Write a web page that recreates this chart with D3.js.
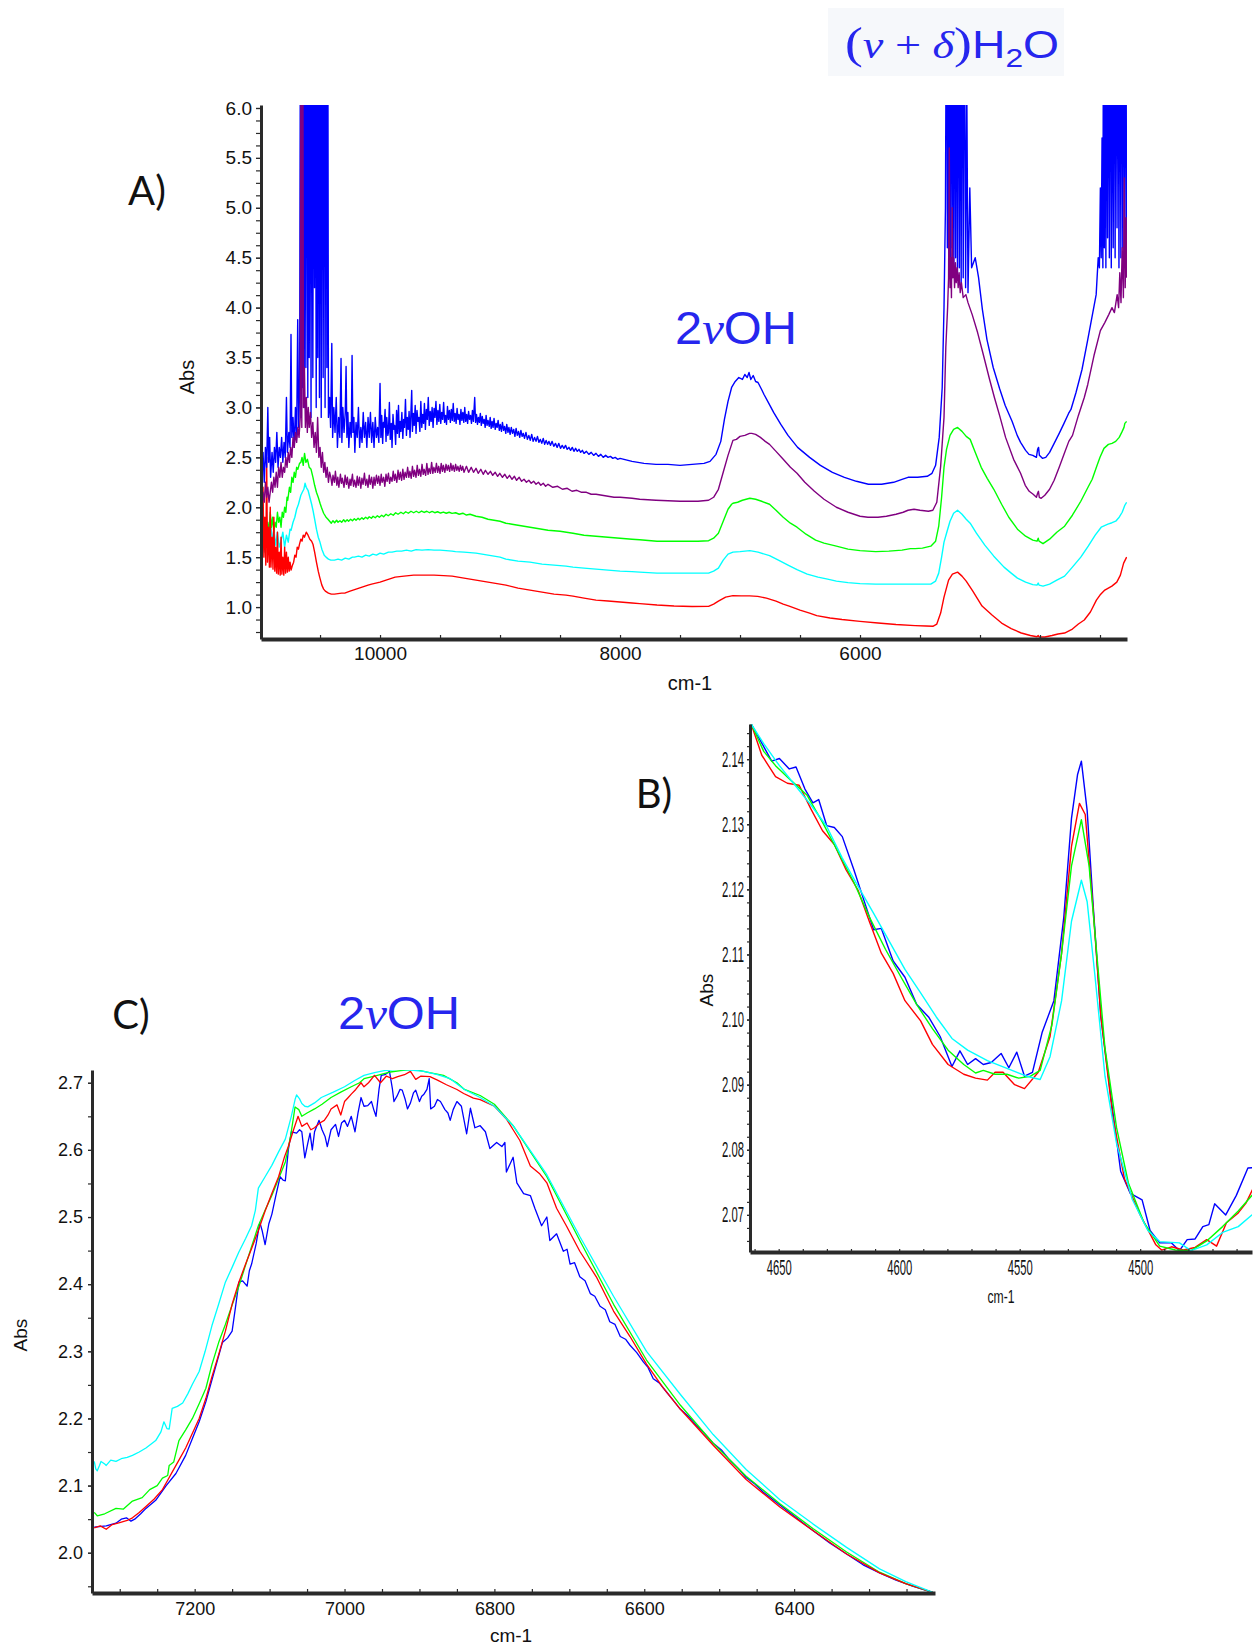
<!DOCTYPE html>
<html>
<head>
<meta charset="utf-8">
<script src="https://cdn.jsdelivr.net/npm/d3@7"></script>
<style>
  body { margin: 0; background: #fff; }
  svg { display: block; }
</style>
</head>
<body>
<div id="chart"></div>
<script>
// ---------- Panel A: full NIR spectra, [wavenumber, Abs] ----------
const aBlue = [
  [10995,2.7],[10985,2.35],[10975,2.55],[10965,2.25],[10955,2.6],[10945,2.4],[10935,3.0],[10928,2.45],[10920,2.7],[10912,2.3],
  [10900,2.55],[10890,2.35],[10880,2.6],[10870,2.45],[10860,2.75],[10850,2.4],[10840,2.6],[10830,2.5],[10820,2.7],[10810,2.45],
  [10800,2.65],[10790,2.5],[10780,3.1],[10772,2.55],[10760,2.75],[10750,2.6],[10742,3.73],[10735,2.7],[10725,2.9],[10715,2.6],
  [10705,3.0],[10695,2.7],[10686,3.88],[10678,2.8],[10670,3.2],
  [10662,8],[10656,2.9],[10650,8],[10644,3.2],[10638,8],[10632,3.0],[10626,8],[10618,3.4],[10610,8],[10602,3.1],[10596,8],
  [10590,3.5],[10582,8],[10575,2.9],[10568,8],[10560,3.3],[10552,8],[10546,4.2],[10540,8],[10532,3.0],[10524,8],[10519,3.5],
  [10512,8],[10505,3.1],[10498,8],[10490,2.9],[10482,8],[10474,3.3],[10466,8],[10458,3.0],[10450,8],[10443,3.4],[10436,8],[10430,2.9],
  [10420,3.1],[10412,2.8],[10402,3.64],[10395,2.7],[10385,3.0],[10375,2.75],[10365,3.1],[10355,2.6],[10345,2.9],[10335,2.7],
  [10325,3.49],[10318,2.65],[10310,3.0],[10300,2.75],[10290,2.95],[10283,3.41],[10276,2.7],[10268,2.95],[10260,2.6],[10250,2.85],
  [10240,2.7],[10233,3.52],[10226,2.75],[10218,2.9],[10210,2.55],[10200,2.85],[10190,2.7],[10180,3.0],[10170,2.6],[10160,2.8],
  [10150,2.65],[10140,2.95],[10130,2.7],[10120,2.85],[10110,2.6],[10100,2.9],[10090,2.7],[10080,2.95],[10070,2.65],[10060,2.85],
  [10050,2.6],[10040,2.9],[10030,2.7],[10020,2.8],[10010,2.65],
  [10000,3.24],[9993,2.7],[9986,2.92],[9978,2.64],[9972,2.85],[9966,2.8],[9958,2.98],[9950,2.66],[9944,2.9],[9935,2.72],
  [9930,2.75],[9922,3.05],[9915,2.68],[9906,2.84],[9900,2.6],[9892,2.93],[9884,2.78],[9878,2.82],[9870,2.63],[9862,2.97],
  [9855,2.74],[9846,3.02],[9840,2.7],[9833,2.86],[9826,2.76],[9818,2.95],[9810,2.69],[9803,2.88],[9796,2.8],[9788,3.08],
  [9780,2.72],[9773,2.9],[9765,2.78],[9758,2.96],[9750,2.7],[9736,3.17],[9730,2.76],[9722,2.94],[9715,2.82],[9707,3.02],
  [9700,2.74],[9692,2.97],[9684,2.86],[9676,2.9],[9668,2.76],[9660,3.06],[9652,2.8],[9645,2.93],[9637,2.84],[9630,3.04],
  [9622,2.78],[9614,2.98],[9606,2.88],[9598,3.1],[9590,2.82],[9582,2.96],[9574,2.86],[9566,3.0],[9558,2.8],[9550,2.99],
  [9542,2.9],[9534,3.06],[9526,2.83],[9518,2.97],[9510,2.86],[9502,3.03],[9494,2.84],[9486,2.95],[9478,2.88],[9470,3.05],
  [9462,2.85],[9454,2.92],[9446,2.83],[9438,3.01],[9430,2.88],[9422,2.97],[9414,2.85],[9406,2.98],[9398,2.87],[9390,3.04],
  [9382,2.86],[9374,2.94],[9366,2.84],[9358,2.99],[9350,2.88],[9342,2.93],[9334,2.83],[9326,2.98],[9318,2.87],[9310,2.95],
  [9302,2.85],[9294,3.0],[9286,2.86],[9278,2.93],[9270,2.84],[9262,2.96],[9254,2.88],[9246,2.92],[9238,2.84],[9230,2.97],
  [9222,2.86],[9211,3.1],[9204,2.85],[9196,2.93],[9188,2.83],[9180,2.9],[9172,2.85],[9164,2.94],[9156,2.82],[9148,2.91],
  [9140,2.84],[9132,2.88],[9124,2.8],[9116,2.92],[9108,2.82],[9100,2.87],[9090,2.81],[9082,2.9],[9074,2.79],[9066,2.86],
  [9058,2.8],[9050,2.89],[9040,2.78],[9032,2.84],[9024,2.8],[9016,2.87],[9006,2.77],[8998,2.83],[8988,2.76],[8980,2.85],
  [8970,2.77],[8962,2.81],[8952,2.74],[8944,2.83],[8934,2.75],[8926,2.8],[8916,2.73],[8906,2.8],[8896,2.74],[8886,2.78],
  [8876,2.71],[8866,2.79],[8856,2.72],[8846,2.76],[8836,2.7],[8826,2.77],[8816,2.71],[8806,2.74],[8796,2.69],[8784,2.75],
  [8772,2.68],[8760,2.72],[8748,2.67],[8736,2.73],[8724,2.66],[8712,2.7],[8700,2.66],[8688,2.71],[8676,2.65],[8664,2.68],
  [8652,2.64],[8640,2.69],[8628,2.63],[8616,2.67],[8604,2.63],[8592,2.66],[8580,2.62],[8566,2.66],[8552,2.61],[8538,2.64],
  [8524,2.6],[8510,2.64],[8496,2.59],[8482,2.62],[8468,2.59],[8454,2.62],[8440,2.58],[8426,2.6],[8412,2.57],[8398,2.6],
  [8384,2.56],[8370,2.59],[8356,2.56],[8342,2.58],[8328,2.55],[8314,2.57],[8300,2.54],[8280,2.56],[8260,2.53],[8240,2.55],
  [8220,2.52],[8200,2.54],[8180,2.51],[8160,2.53],[8140,2.5],[8120,2.52],[8100,2.5],[8080,2.51],[8060,2.49],[8040,2.5],
  [8020,2.48],[8000,2.49],
  [7900,2.46],[7800,2.44],[7700,2.43],[7600,2.43],[7500,2.42],[7400,2.43],[7300,2.44],[7250,2.46],[7200,2.53],[7160,2.66],
  [7130,2.88],[7100,3.06],[7070,3.2],[7040,3.26],[7010,3.3],[6980,3.28],[6960,3.33],[6940,3.3],[6925,3.35],[6910,3.28],
  [6890,3.32],[6870,3.26],[6850,3.25],[6820,3.18],[6800,3.13],[6760,3.04],[6720,2.95],[6660,2.83],[6600,2.72],[6520,2.6],
  [6420,2.5],[6330,2.42],[6230,2.35],[6130,2.3],[6030,2.26],[5930,2.23],[5820,2.23],[5720,2.25],[5650,2.28],[5600,2.3],
  [5520,2.3],[5440,2.31],[5400,2.34],[5370,2.42],[5340,2.7],[5315,3.2],[5300,4.0],[5288,5.0],[5278,8],[5272,4.6],[5266,8],
  [5260,4.5],[5254,8],[5247,4.4],[5240,8],[5232,4.6],[5226,8],[5218,4.4],[5210,8],[5203,4.5],[5196,8],[5188,4.3],[5180,8],
  [5172,4.4],[5165,8],[5157,4.2],[5150,8],[5140,4.3],[5130,7.5],[5120,4.2],[5110,6.2],[5100,4.15],[5085,5.2],[5070,4.4],
  [5040,4.5],[5012,4.3],[4980,3.98],[4942,3.68],[4890,3.4],[4837,3.19],[4790,3.02],[4732,2.86],[4690,2.72],[4662,2.65],
  [4620,2.57],[4592,2.53],[4560,2.52],[4530,2.5],[4520,2.58],[4512,2.6],[4505,2.52],[4480,2.49],[4452,2.5],[4420,2.55],
  [4382,2.64],[4340,2.74],[4300,2.84],[4262,2.94],[4242,2.98],[4200,3.15],[4150,3.38],[4102,3.68],[4060,3.95],[4032,4.13],
  [4015,4.5],[4005,4.4],[3997,5.2],[3990,4.5],[3983,5.7],[3976,4.4],[3970,8],[3964,4.6],[3958,8],[3951,4.4],[3944,8],
  [3937,4.7],[3930,8],[3922,4.5],[3914,8],[3906,4.4],[3898,7],[3890,4.6],[3882,8],[3874,4.5],[3866,8],[3858,4.8],[3850,8],
  [3842,4.4],[3834,8],[3826,4.5],[3818,8],[3810,4.6],[3802,8],[3794,4.4],[3786,8],[3778,4.6]
]

const aPurple = [
  [10995,2.2],[10985,2.0],[10975,2.15],[10965,2.05],[10955,2.25],[10945,2.1],[10935,2.2],[10925,2.05],[10915,2.15],[10905,2.25],
  [10895,2.15],[10885,2.3],[10875,2.2],[10865,2.35],[10855,2.2],[10845,2.4],[10835,2.3],[10825,2.45],[10815,2.3],[10805,2.4],
  [10795,2.35],[10785,2.5],[10775,2.4],[10765,2.55],[10755,2.45],[10745,2.6],[10735,2.5],[10725,2.7],[10715,2.6],[10705,2.75],
  [10695,2.65],[10685,2.8],[10675,2.7],[10665,2.9],[10658,8],[10652,2.8],[10645,8],[10638,3.0],[10630,3.4],[10622,2.8],
  [10614,3.1],[10606,2.75],[10598,3.0],[10590,2.8],[10580,2.95],[10570,2.7],[10560,2.85],[10550,2.6],[10540,2.75],[10530,2.55],
  [10520,2.9],[10510,2.5],[10500,2.6],[10490,2.4],[10480,2.55],[10470,2.35],[10460,2.45],[10450,2.3],[10440,2.4],[10430,2.25],
  [10420,2.35],[10410,2.3],[10400,2.22],[10392,2.32],[10380,2.25],[10372,2.36],[10360,2.22],[10352,2.3],[10343,2.2],[10330,2.33],
  [10322,2.24],[10314,2.29],[10300,2.2],[10291,2.32],[10280,2.23],[10272,2.3],[10260,2.19],[10250,2.28],[10243,2.22],[10230,2.33],
  [10221,2.21],[10212,2.27],[10200,2.2],[10190,2.31],[10182,2.22],[10171,2.3],[10160,2.19],[10151,2.29],[10141,2.23],[10130,2.34],
  [10120,2.22],[10110,2.28],[10100,2.2],[10090,2.32],[10082,2.23],[10070,2.3],[10060,2.19],[10050,2.3],[10042,2.22],[10030,2.32],
  [10020,2.24],[10011,2.31],[10000,2.22],[9990,2.33],[9982,2.25],[9970,2.3],[9960,2.21],[9950,2.33],[9941,2.26],[9930,2.34],
  [9920,2.24],[9911,2.3],[9900,2.26],[9890,2.36],[9880,2.27],[9872,2.33],[9860,2.25],[9850,2.37],[9840,2.28],[9831,2.35],
  [9820,2.27],[9810,2.38],[9800,2.28],[9791,2.35],[9780,2.3],[9770,2.4],[9760,2.3],[9751,2.36],[9740,2.29],[9730,2.41],
  [9720,2.31],[9712,2.37],[9700,2.3],[9690,2.42],[9680,2.32],[9671,2.38],[9660,2.31],[9650,2.43],[9640,2.33],[9632,2.38],
  [9620,2.32],[9610,2.44],[9600,2.33],[9591,2.39],[9580,2.34],[9570,2.45],[9560,2.34],[9551,2.4],[9540,2.35],[9530,2.44],
  [9520,2.35],[9511,2.41],[9500,2.34],[9490,2.44],[9480,2.36],[9472,2.42],[9460,2.35],[9450,2.43],[9440,2.37],[9431,2.42],
  [9420,2.36],[9410,2.44],[9400,2.37],[9391,2.42],[9380,2.36],[9370,2.43],[9360,2.37],[9351,2.41],[9340,2.36],[9330,2.42],
  [9320,2.37],[9311,2.41],[9300,2.35],[9280,2.41],[9262,2.35],[9240,2.4],[9221,2.35],[9200,2.39],[9182,2.34],[9160,2.38],
  [9140,2.33],[9122,2.37],[9100,2.33],[9080,2.36],[9061,2.32],[9040,2.35],[9020,2.31],[9002,2.34],[8980,2.3],[8960,2.33],
  [8940,2.29],[8921,2.32],[8900,2.28],[8880,2.31],[8862,2.27],[8840,2.3],[8820,2.26],[8800,2.28],[8780,2.25],[8760,2.27],
  [8740,2.24],[8720,2.26],[8700,2.23],[8680,2.25],[8660,2.22],[8640,2.24],[8620,2.21],[8600,2.23],[8560,2.2],[8520,2.21],
  [8480,2.18],[8440,2.19],[8400,2.16],[8360,2.17],[8320,2.15],[8280,2.15],[8240,2.13],[8200,2.13],[8150,2.12],[8100,2.11],
  [8050,2.1],[8000,2.1],
  [7900,2.09],[7836,2.08],[7700,2.07],[7500,2.06],[7350,2.06],[7262,2.07],[7220,2.1],[7180,2.18],[7140,2.35],[7100,2.52],
  [7070,2.63],[7059,2.67],[7030,2.68],[7000,2.71],[6960,2.72],[6920,2.74],[6902,2.74],[6870,2.73],[6830,2.7],[6790,2.66],
  [6754,2.63],[6700,2.56],[6640,2.48],[6580,2.4],[6525,2.34],[6460,2.25],[6380,2.16],[6300,2.08],[6197,2.0],[6100,1.95],
  [6000,1.91],[5934,1.9],[5850,1.9],[5780,1.91],[5700,1.93],[5640,1.95],[5600,1.97],[5550,1.98],[5500,1.97],[5430,1.96],
  [5393,1.97],[5360,2.05],[5328,2.41],[5300,2.9],[5285,3.6],[5270,4.0],[5262,4.3],[5256,5.6],[5250,4.2],[5244,4.5],
  [5238,4.1],[5232,5.0],[5226,4.3],[5220,4.5],[5212,4.2],[5205,4.45],[5198,4.25],[5190,4.4],[5182,4.2],[5174,4.35],
  [5165,4.15],[5155,4.25],[5140,4.1],[5118,4.13],[5100,4.05],[5065,3.93],[5020,3.75],[4977,3.55],[4920,3.28],[4880,3.1],
  [4837,2.92],[4787,2.7],[4720,2.48],[4662,2.34],[4623,2.22],[4590,2.16],[4557,2.13],[4530,2.1],[4520,2.14],[4513,2.16],
  [4506,2.1],[4490,2.09],[4460,2.12],[4420,2.18],[4382,2.27],[4340,2.4],[4300,2.53],[4260,2.66],[4229,2.72],[4180,2.92],
  [4131,3.1],[4102,3.23],[4050,3.52],[3997,3.77],[3960,3.85],[3927,3.93],[3900,4.0],[3880,3.95],[3857,4.13],[3845,4.0],
  [3835,4.35],[3825,4.05],[3815,4.6],[3805,4.1],[3798,5.3],[3790,4.2],[3783,4.9],[3777,4.3]
]

const aGreen = [
  [10995,1.9],[10985,1.7],[10975,1.85],[10965,1.65],[10955,1.8],[10945,1.6],[10935,1.85],[10925,1.75],[10915,1.95],[10905,1.8],
  [10895,1.9],[10885,1.75],[10875,1.85],[10865,1.8],[10855,1.95],[10845,1.85],[10835,1.9],[10825,1.8],[10815,1.95],[10805,1.9],
  [10795,2.0],[10785,1.95],[10775,2.1],[10769,2.07],[10755,2.2],[10745,2.15],[10735,2.3],[10725,2.25],[10715,2.35],[10705,2.3],
  [10695,2.4],[10685,2.38],[10671,2.44],[10660,2.45],[10650,2.5],[10640,2.42],[10629,2.54],[10618,2.45],[10605,2.48],[10590,2.4],
  [10575,2.38],[10559,2.3],[10545,2.22],[10530,2.15],[10515,2.1],[10500,2.04],[10489,2.0],[10470,1.94],[10450,1.9],[10434,1.88],
  [10420,1.86],[10406,1.84],[10392,1.865],[10378,1.845],[10362,1.87],[10350,1.85],[10334,1.865],[10320,1.85],[10303,1.875],[10290,1.855],
  [10274,1.875],[10262,1.86],[10245,1.88],[10230,1.865],[10214,1.885],[10200,1.87],[10183,1.89],[10170,1.875],[10151,1.895],[10138,1.88],
  [10120,1.9],[10104,1.885],[10090,1.905],[10072,1.89],[10058,1.91],[10040,1.895],[10022,1.915],[10006,1.9],[9986,1.92],[9970,1.905],
  [9950,1.93],[9932,1.915],[9910,1.935],[9890,1.92],[9870,1.945],[9850,1.93],[9826,1.95],[9806,1.935],[9786,1.955],[9764,1.94],
  [9742,1.96],[9720,1.945],[9698,1.96],[9676,1.945],[9654,1.962],[9632,1.948],[9610,1.96],[9588,1.945],[9566,1.958],[9544,1.945],
  [9520,1.955],[9496,1.942],[9472,1.952],[9448,1.94],[9424,1.95],[9400,1.938],[9370,1.945],[9340,1.93],[9310,1.94],[9280,1.922],
  [9250,1.93],[9200,1.91],[9150,1.9],[9100,1.88],[9050,1.87],[9000,1.86],[8951,1.84],[8900,1.83],[8800,1.81],[8700,1.79],
  [8600,1.77],[8500,1.76],[8392,1.74],[8300,1.72],[8200,1.71],[8100,1.7],[8000,1.69],[7900,1.68],[7836,1.675],[7692,1.66],
  [7500,1.66],[7350,1.66],[7262,1.665],[7220,1.69],[7180,1.74],[7140,1.86],[7100,1.98],[7070,2.03],[7059,2.04],[7020,2.05],
  [6980,2.07],[6918,2.09],[6870,2.08],[6820,2.06],[6754,2.03],[6700,1.97],[6640,1.9],[6580,1.84],[6525,1.8],[6450,1.73],
  [6370,1.67],[6300,1.64],[6197,1.61],[6100,1.58],[6000,1.565],[5869,1.555],[5760,1.56],[5650,1.57],[5580,1.585],[5541,1.585],
  [5480,1.59],[5410,1.61],[5370,1.66],[5344,1.81],[5320,2.1],[5300,2.4],[5279,2.58],[5250,2.72],[5220,2.78],[5187,2.8],
  [5150,2.76],[5115,2.71],[5082,2.68],[5040,2.55],[4990,2.4],[4940,2.29],[4885,2.18],[4820,2.03],[4760,1.9],[4688,1.78],
  [4620,1.71],[4560,1.67],[4525,1.66],[4515,1.69],[4508,1.66],[4475,1.635],[4420,1.68],[4360,1.75],[4295,1.81],[4230,1.92],
  [4160,2.06],[4100,2.2],[4065,2.28],[4030,2.4],[4000,2.5],[3967,2.59],[3930,2.63],[3900,2.64],[3869,2.66],[3840,2.7],
  [3815,2.76],[3800,2.8],[3793,2.84],[3778,2.86]
]

const aCyan = [
  [10995,1.65],[10985,1.5],[10975,1.7],[10965,1.55],[10955,1.8],[10945,1.6],[10935,1.75],[10925,1.55],[10915,1.85],[10909,1.8],
  [10895,1.65],[10885,1.78],[10870,1.62],[10855,1.75],[10840,1.6],[10825,1.66],[10810,1.75],[10795,1.6],[10780,1.72],[10765,1.65],
  [10750,1.78],[10741,1.77],[10725,1.85],[10710,1.9],[10695,1.98],[10680,2.03],[10671,2.07],[10660,2.12],[10648,2.15],[10635,2.18],
  [10625,2.24],[10615,2.2],[10600,2.17],[10585,2.1],[10570,2.03],[10559,1.97],[10545,1.88],[10530,1.78],[10515,1.7],[10503,1.66],
  [10485,1.58],[10465,1.52],[10450,1.5],[10430,1.48],[10410,1.47],[10380,1.47],[10350,1.48],[10320,1.47],[10290,1.49],[10260,1.48],
  [10230,1.5],[10213,1.5],[10180,1.51],[10150,1.5],[10120,1.52],[10090,1.51],[10060,1.53],[10030,1.52],[10000,1.54],[9970,1.53],
  [9930,1.55],[9900,1.55],[9860,1.56],[9820,1.56],[9780,1.57],[9740,1.56],[9700,1.575],[9650,1.57],[9600,1.575],[9550,1.57],
  [9500,1.57],[9450,1.565],[9400,1.56],[9371,1.555],[9300,1.55],[9200,1.54],[9100,1.52],[9000,1.5],[8951,1.48],[8850,1.46],
  [8750,1.45],[8650,1.43],[8550,1.42],[8450,1.41],[8392,1.4],[8300,1.39],[8200,1.38],[8100,1.37],[8000,1.36],[7900,1.355],
  [7836,1.35],[7692,1.34],[7500,1.34],[7350,1.34],[7262,1.34],[7220,1.36],[7180,1.39],[7140,1.47],[7100,1.53],[7059,1.55],
  [7000,1.555],[6918,1.565],[6850,1.55],[6754,1.515],[6680,1.47],[6600,1.42],[6525,1.375],[6440,1.33],[6350,1.3],[6270,1.28],
  [6197,1.26],[6100,1.245],[6000,1.235],[5869,1.23],[5700,1.23],[5550,1.23],[5410,1.23],[5370,1.26],[5344,1.34],[5320,1.5],
  [5300,1.65],[5279,1.74],[5250,1.86],[5220,1.94],[5187,1.97],[5150,1.93],[5115,1.88],[5082,1.84],[5030,1.74],[4960,1.62],
  [4885,1.51],[4800,1.4],[4740,1.34],[4688,1.29],[4620,1.25],[4560,1.225],[4525,1.22],[4515,1.24],[4508,1.22],[4475,1.21],
  [4420,1.23],[4360,1.27],[4295,1.31],[4230,1.4],[4160,1.5],[4098,1.61],[4040,1.72],[3990,1.8],[3934,1.83],[3900,1.845],
  [3869,1.86],[3840,1.9],[3815,1.95],[3793,2.02],[3778,2.05]
]

const aRed = [
  [10995,1.55],[10988,2.1],[10982,1.45],[10975,2.2],[10968,1.5],[10960,1.9],[10952,1.42],[10945,2.5],[10938,1.45],[10930,1.8],
  [10922,1.4],[10915,2.0],[10909,1.4],[10900,1.7],[10892,1.38],[10885,1.9],[10877,1.36],[10870,1.6],[10862,1.34],[10855,1.75],
  [10848,1.33],[10840,1.55],[10832,1.32],[10825,1.7],[10818,1.33],[10810,1.5],[10802,1.32],[10795,1.6],[10787,1.34],[10780,1.55],
  [10772,1.35],[10765,1.5],[10757,1.36],[10750,1.45],[10741,1.37],[10730,1.42],[10720,1.45],[10710,1.52],[10700,1.5],[10690,1.6],
  [10680,1.58],[10671,1.63],[10660,1.68],[10650,1.66],[10640,1.72],[10630,1.7],[10615,1.75],[10600,1.72],[10585,1.68],[10570,1.66],
  [10559,1.63],[10545,1.55],[10530,1.45],[10515,1.36],[10503,1.3],[10485,1.22],[10470,1.18],[10456,1.16],[10430,1.14],[10406,1.13],
  [10380,1.13],[10350,1.135],[10320,1.14],[10294,1.14],[10250,1.16],[10200,1.18],[10150,1.2],[10100,1.22],[10070,1.23],[10000,1.25],
  [9950,1.27],[9874,1.3],[9800,1.31],[9720,1.32],[9650,1.32],[9550,1.32],[9470,1.315],[9399,1.31],[9300,1.29],[9200,1.27],
  [9100,1.25],[9000,1.23],[8951,1.22],[8850,1.19],[8750,1.17],[8650,1.15],[8550,1.13],[8450,1.12],[8392,1.11],[8300,1.09],
  [8200,1.07],[8100,1.06],[8000,1.05],[7900,1.04],[7836,1.034],[7692,1.02],[7550,1.01],[7400,1.005],[7262,1.007],[7220,1.03],
  [7180,1.06],[7120,1.1],[7059,1.114],[6990,1.112],[6920,1.112],[6853,1.107],[6780,1.09],[6700,1.06],[6640,1.03],[6590,1.01],
  [6500,0.97],[6420,0.94],[6361,0.914],[6250,0.89],[6150,0.875],[6000,0.857],[5850,0.84],[5700,0.825],[5541,0.814],[5450,0.81],
  [5393,0.807],[5360,0.83],[5328,0.94],[5300,1.1],[5262,1.27],[5230,1.33],[5187,1.35],[5150,1.31],[5115,1.26],[5060,1.16],
  [4983,1.01],[4900,0.92],[4820,0.84],[4740,0.785],[4656,0.74],[4580,0.715],[4525,0.703],[4515,0.715],[4508,0.7],[4459,0.7],
  [4400,0.715],[4350,0.73],[4295,0.74],[4230,0.78],[4180,0.83],[4131,0.87],[4080,0.95],[4030,1.07],[4000,1.12],[3960,1.17],
  [3901,1.21],[3860,1.25],[3830,1.32],[3803,1.44],[3778,1.5]
]

const aYTicks = [1.0, 1.5, 2.0, 2.5, 3.0, 3.5, 4.0, 4.5, 5.0, 5.5, 6.0]
const aXTicks = [10000, 8000, 6000]

// ---------- Panel B: 4660-4455 cm-1 zoom ----------
const bBlue = [
  [4661.4,2.1454],[4657.8,2.143],[4652.9,2.1397],[4649.7,2.1401],[4645.6,2.1385],[4642.8,2.1388],[4639.1,2.1354],[4635.8,2.1333],
  [4633.4,2.1338],[4630.1,2.1298],[4626.9,2.1295],[4623.6,2.1281],[4618.8,2.123],[4613.9,2.1175],[4610.6,2.1138],[4607.4,2.114],
  [4602.5,2.109],[4597.6,2.1065],[4592.7,2.1023],[4587.8,2.1004],[4583,2.0974],[4578.1,2.0928],[4574.8,2.0952],[4571.6,2.0931],
  [4568.3,2.094],[4565.1,2.0931],[4561.8,2.0934],[4557.7,2.0948],[4554.5,2.0926],[4551.2,2.095],[4548,2.0913],[4544.7,2.0919],
  [4540.7,2.098],[4535.8,2.1029],[4531.7,2.1157],[4528.5,2.1309],[4526,2.1376],[4524.4,2.1397],[4522,2.1321],[4519.5,2.1175],
  [4516.3,2.1004],[4512.2,2.0883],[4508.1,2.0767],[4504.1,2.0733],[4499.2,2.0723],[4495.9,2.0676],[4491.9,2.0657],[4487,2.0657],
  [4483.7,2.0645],[4480.5,2.0662],[4477.2,2.0663],[4474,2.0682],[4471.5,2.0685],[4469.1,2.0717],[4464.5,2.07],[4460.1,2.073],
  [4455.3,2.0772],[4452,2.0773]
]
const bRed = [
  [4661.4,2.1454],[4657,2.1406],[4651.3,2.1373],[4646.4,2.1363],[4641.5,2.136],[4636.7,2.1324],[4631.8,2.129],[4626.9,2.1269],
  [4622,2.123],[4617.1,2.1199],[4612.3,2.115],[4607.4,2.1102],[4602.5,2.1071],[4597.6,2.1029],[4591.1,2.0998],[4586.2,2.0962],
  [4579.7,2.0931],[4573.2,2.0916],[4568.3,2.091],[4563.4,2.0907],[4560.2,2.0919],[4556.9,2.0919],[4552.1,2.09],[4548,2.0894],
  [4542.3,2.0919],[4537.4,2.0974],[4532.6,2.1102],[4528.5,2.1266],[4525.2,2.1332],[4522.8,2.1315],[4519.5,2.1169],[4516.3,2.1004],
  [4511.4,2.0852],[4506.5,2.0755],[4500,2.07],[4493.5,2.0654],[4491.1,2.0646],[4487,2.0651],[4482.1,2.0646],[4477.2,2.065],
  [4472.4,2.0662],[4468.3,2.0652],[4464.2,2.0688],[4459.3,2.0703],[4456.1,2.0718],[4451.7,2.0752]
]
const bGreen = [
  [4661.4,2.1454],[4656.2,2.1412],[4651.3,2.139],[4644.8,2.1367],[4638.3,2.1345],[4631.8,2.1303],[4625.3,2.1257],[4618.8,2.1211],
  [4612.3,2.1157],[4605.7,2.1108],[4599.2,2.1065],[4592.7,2.1023],[4586.2,2.0986],[4579.7,2.0953],[4573.2,2.0931],[4568.3,2.0918],
  [4565.1,2.0922],[4560.2,2.0916],[4555.3,2.0916],[4550.4,2.091],[4545.5,2.0913],[4541.5,2.0922],[4536.6,2.0992],[4532.6,2.1102],
  [4528.5,2.1236],[4524.4,2.1307],[4521.2,2.1236],[4517.9,2.1096],[4514.6,2.0956],[4509.8,2.0834],[4504.9,2.0749],[4498.4,2.0688],
  [4491.9,2.0652],[4485.4,2.0646],[4478.9,2.0645],[4472.4,2.066],[4465.8,2.0682],[4459.3,2.0706],[4451.7,2.0738]
]
const bCyan = [
  [4661.4,2.1454],[4656.2,2.1424],[4649.7,2.139],[4643.2,2.136],[4636.7,2.133],[4630.1,2.1297],[4623.6,2.1248],[4617.1,2.1205],
  [4610.6,2.1163],[4604.1,2.112],[4597.6,2.1077],[4591.1,2.1041],[4584.6,2.1004],[4578.1,2.0971],[4571.6,2.0953],[4563.4,2.0937],
  [4555.3,2.0925],[4547.1,2.0913],[4541.5,2.0908],[4537.4,2.0943],[4532.6,2.1029],[4528.5,2.1151],[4524.4,2.1214],[4522,2.1181],
  [4518.7,2.1065],[4514.6,2.0913],[4509.8,2.081],[4503.3,2.0724],[4496.8,2.0676],[4491.9,2.0659],[4483.7,2.0657],[4478.9,2.0645],
  [4472.4,2.0654],[4465.8,2.0673],[4459.3,2.0682],[4451.7,2.0706]
]
const bYTicks = [2.07, 2.08, 2.09, 2.10, 2.11, 2.12, 2.13, 2.14]
const bXTicks = [4650, 4600, 4550, 4500]

// ---------- Panel C: 2vOH band ----------
const cBlue = [
  [7334,2.038],[7318,2.04],[7305,2.044],[7298,2.05],[7291,2.052],[7285,2.047],[7280,2.05],[7272,2.058],[7265,2.066],[7252,2.078],
  [7238,2.1],[7225,2.118],[7212,2.145],[7203,2.17],[7194,2.195],[7185,2.225],[7177,2.257],[7170,2.285],[7163,2.313],[7156,2.32],
  [7150,2.33],[7145,2.37],[7141,2.403],[7136,2.405],[7130,2.397],[7127,2.42],[7124,2.43],[7118,2.46],[7113,2.492],[7110,2.48],
  [7106,2.459],[7101,2.49],[7097,2.504],[7092,2.53],[7086,2.56],[7082,2.555],[7079,2.554],[7075,2.6],[7071,2.627],[7064,2.625],
  [7060,2.63],[7057,2.627],[7053,2.588],[7049,2.61],[7046,2.625],[7043,2.6],[7040,2.627],[7034,2.644],[7030,2.63],[7026,2.62],
  [7023,2.605],[7018,2.63],[7012,2.638],[7008,2.62],[7004,2.64],[7000,2.644],[6996,2.635],[6991,2.65],[6986,2.627],[6982,2.655],
  [6978,2.678],[6974,2.665],[6969,2.666],[6964,2.672],[6961,2.66],[6958,2.65],[6954,2.69],[6951,2.711],[6946,2.712],[6940,2.717],
  [6936,2.69],[6934,2.672],[6930,2.68],[6926,2.69],[6923,2.689],[6919,2.675],[6916,2.661],[6912,2.67],[6908,2.685],[6905,2.689],
  [6900,2.672],[6897,2.68],[6894,2.683],[6890,2.69],[6887,2.706],[6885,2.661],[6880,2.665],[6876,2.675],[6872,2.672],[6866,2.66],
  [6862,2.655],[6859,2.644],[6855,2.66],[6850,2.672],[6844,2.665],[6837,2.624],[6832,2.662],[6826,2.633],[6819,2.636],[6812,2.627],
  [6806,2.602],[6797,2.611],[6790,2.605],[6786,2.611],[6784,2.567],[6775,2.589],[6770,2.551],[6761,2.535],[6752,2.532],[6746,2.513],
  [6737,2.487],[6730,2.5],[6726,2.465],[6717,2.475],[6708,2.449],[6703,2.452],[6699,2.43],[6693,2.432],[6686,2.411],[6679,2.405],
  [6672,2.386],[6666,2.382],[6659,2.367],[6652,2.362],[6646,2.344],[6639,2.34],[6632,2.322],[6625,2.318],[6619,2.309],[6610,2.298],
  [6601,2.284],[6595,2.276],[6588,2.259],[6580,2.253],[6570,2.239],[6562,2.228],[6552,2.214],[6541,2.203],[6530,2.189],[6520,2.178],
  [6508,2.163],[6497,2.153],[6486,2.138],[6475,2.126],[6464,2.112],[6452,2.102],[6441,2.09],[6419,2.071],[6397,2.052],[6375,2.033],
  [6352,2.014],[6330,1.998],[6308,1.982],[6286,1.97],[6264,1.959],[6241,1.95],[6215,1.941]
]
const cRed = [
  [7334,2.037],[7326,2.04],[7318,2.035],[7310,2.042],[7300,2.045],[7290,2.048],[7283,2.052],[7274,2.06],[7265,2.069],[7254,2.08],
  [7243,2.094],[7236,2.108],[7230,2.12],[7221,2.138],[7212,2.156],[7203,2.178],[7194,2.2],[7185,2.23],[7177,2.262],[7168,2.295],
  [7159,2.33],[7150,2.37],[7141,2.403],[7132,2.43],[7124,2.453],[7115,2.48],[7106,2.509],[7097,2.535],[7088,2.56],[7080,2.59],
  [7075,2.605],[7068,2.63],[7062,2.65],[7057,2.635],[7050,2.64],[7045,2.63],[7040,2.633],[7033,2.64],[7027,2.644],[7022,2.652],
  [7018,2.661],[7010,2.667],[7005,2.652],[7000,2.672],[6995,2.678],[6991,2.683],[6985,2.69],[6978,2.7],[6974,2.694],[6968,2.7],
  [6960,2.711],[6952,2.7],[6944,2.71],[6936,2.706],[6929,2.709],[6920,2.712],[6912,2.717],[6905,2.705],[6898,2.71],[6886,2.709],
  [6876,2.704],[6864,2.697],[6850,2.69],[6841,2.684],[6828,2.677],[6819,2.675],[6800,2.665],[6784,2.646],[6775,2.63],[6766,2.614],
  [6752,2.576],[6740,2.565],[6730,2.551],[6717,2.513],[6704,2.487],[6686,2.449],[6664,2.411],[6641,2.36],[6619,2.322],[6597,2.281],
  [6575,2.246],[6552,2.214],[6508,2.16],[6464,2.109],[6419,2.068],[6375,2.033],[6330,1.998],[6286,1.97],[6251,1.954],[6215,1.941]
]
const cGreen = [
  [7334,2.06],[7330,2.055],[7320,2.058],[7305,2.066],[7295,2.065],[7283,2.077],[7270,2.082],[7260,2.094],[7250,2.1],[7243,2.111],
  [7236,2.115],[7234,2.13],[7228,2.135],[7221,2.167],[7212,2.183],[7203,2.2],[7194,2.222],[7185,2.245],[7177,2.28],[7168,2.313],
  [7159,2.34],[7150,2.369],[7141,2.397],[7133,2.425],[7124,2.456],[7115,2.487],[7106,2.51],[7097,2.532],[7088,2.557],[7079,2.582],
  [7072,2.62],[7066,2.664],[7061,2.66],[7057,2.65],[7050,2.655],[7040,2.661],[7030,2.668],[7018,2.678],[7005,2.686],[6991,2.694],
  [6980,2.7],[6974,2.706],[6960,2.71],[6950,2.713],[6939,2.716],[6925,2.718],[6907,2.72],[6890,2.716],[6868,2.711],[6850,2.7],
  [6840,2.69],[6819,2.681],[6800,2.668],[6775,2.636],[6730,2.56],[6686,2.465],[6641,2.37],[6597,2.287],[6552,2.22],[6508,2.163],
  [6464,2.114],[6419,2.073],[6375,2.036],[6330,2.001],[6286,1.971],[6251,1.954],[6215,1.941]
]
const cCyan = [
  [7334,2.136],[7332,2.125],[7330,2.122],[7327,2.13],[7325,2.136],[7320,2.132],[7318,2.13],[7312,2.138],[7305,2.136],[7298,2.14],
  [7290,2.142],[7283,2.145],[7274,2.15],[7265,2.156],[7258,2.162],[7252,2.167],[7245,2.18],[7241,2.195],[7237,2.185],[7234,2.184],
  [7230,2.215],[7223,2.218],[7216,2.223],[7209,2.237],[7203,2.251],[7194,2.27],[7186,2.3],[7177,2.338],[7168,2.37],[7159,2.403],
  [7150,2.425],[7141,2.448],[7132,2.468],[7124,2.487],[7119,2.51],[7115,2.543],[7106,2.56],[7097,2.577],[7088,2.597],[7079,2.616],
  [7071,2.65],[7066,2.675],[7064,2.682],[7060,2.676],[7057,2.669],[7053,2.665],[7049,2.664],[7040,2.67],[7031,2.678],[7015,2.686],
  [7000,2.694],[6987,2.703],[6974,2.711],[6960,2.715],[6947,2.718],[6929,2.72],[6912,2.719],[6894,2.717],[6876,2.712],[6859,2.706],
  [6840,2.69],[6819,2.678],[6800,2.665],[6775,2.636],[6730,2.563],[6686,2.471],[6641,2.382],[6597,2.3],[6552,2.236],[6508,2.176],
  [6464,2.124],[6419,2.079],[6375,2.043],[6330,2.008],[6286,1.976],[6251,1.957],[6215,1.941]
]
const cYTicks = [2.0, 2.1, 2.2, 2.3, 2.4, 2.5, 2.6, 2.7]
const cXTicks = [7200, 7000, 6800, 6600, 6400]

// ---------- drawing ----------
const W = 1257, H = 1648
const SANS = "'Liberation Sans', Arial, Helvetica, sans-serif"
const SERIF = "'Liberation Serif', 'Times New Roman', serif"
const LABEL_FONT = "Lato, 'Open Sans', sans-serif"
const AXIS_COLOR = "#2a2a2a"
const BLUE_TEXT = "#2626ee"

const svg = d3.select("#chart").append("svg")
    .attr("width", W)
    .attr("height", H)
    .attr("viewBox", `0 0 ${W} ${H}`)

svg.append("rect").attr("width", W).attr("height", H).attr("fill", "#fff")

function drawPanel(p) {
    const x = d3.scaleLinear().domain(p.xDomain).range([p.left, p.right])
    const y = d3.scaleLinear().domain(p.yDomain).range([p.bottom, p.top])

    const clipId = "clip-" + p.id
    svg.append("clipPath").attr("id", clipId)
        .append("rect")
        .attr("x", p.left)
        .attr("y", p.top)
        .attr("width", p.right - p.left)
        .attr("height", p.bottom - p.top)

    const line = d3.line().x(d => x(d[0])).y(d => y(d[1]))

    const plot = svg.append("g").attr("clip-path", `url(#${clipId})`)
    p.series.forEach(s => {
        plot.append("path")
            .datum(s.values)
            .attr("d", line)
            .attr("fill", "none")
            .attr("stroke", s.color)
            .attr("stroke-width", p.lineWidth)
            .attr("stroke-linejoin", "round")
    })

    // minor ticks (no labels)
    const xMinor = svg.append("g")
        .attr("transform", `translate(0,${p.bottom})`)
        .call(d3.axisBottom(x).tickValues(p.xMinor).tickSize(-p.xTickLen).tickSizeOuter(0).tickFormat(""))
    xMinor.select(".domain").remove()
    xMinor.selectAll(".tick line").attr("stroke", AXIS_COLOR).attr("stroke-width", 1.2)

    if (p.yMinor) {
        const yMinor = svg.append("g")
            .attr("transform", `translate(${p.left},0)`)
            .call(d3.axisLeft(y).tickValues(p.yMinor).tickSize(p.yTickLen).tickSizeOuter(0).tickFormat(""))
        yMinor.select(".domain").remove()
        yMinor.selectAll(".tick line").attr("stroke", AXIS_COLOR).attr("stroke-width", 1.2)
    }

    // labelled axes (font set after call, d3 overrides it otherwise)
    const xAxis = svg.append("g")
        .attr("transform", `translate(0,${p.bottom})`)
        .call(d3.axisBottom(x).tickValues(p.xTicks).tickSize(0).tickPadding(p.xPad).tickSizeOuter(0).tickFormat(d3.format("d")))
        .attr("font-family", SANS)
        .attr("font-size", p.fontSize)
    xAxis.select(".domain").attr("stroke", AXIS_COLOR).attr("stroke-width", p.axisWidth + 1)

    const yAxis = svg.append("g")
        .attr("transform", `translate(${p.left},0)`)
        .call(d3.axisLeft(y).tickValues(p.yTicks).tickSize(p.yTickLen).tickPadding(p.yPad).tickSizeOuter(0).tickFormat(d3.format(p.yFormat)))
        .attr("font-family", SANS)
        .attr("font-size", p.fontSize)
    yAxis.select(".domain").attr("stroke", AXIS_COLOR).attr("stroke-width", p.axisWidth)
    yAxis.selectAll(".tick line").attr("stroke", AXIS_COLOR).attr("stroke-width", 1.2)

    xAxis.selectAll("text").attr("fill", "#111")
    yAxis.selectAll("text").attr("fill", "#111")

    if (p.condensed) {
        xAxis.selectAll(".tick text").attr("textLength", p.xLabelLen).attr("lengthAdjust", "spacingAndGlyphs")
        yAxis.selectAll(".tick text").attr("textLength", p.yLabelLen).attr("lengthAdjust", "spacingAndGlyphs")
    }

    // axis titles
    svg.append("text")
        .attr("transform", `translate(${p.yTitle[0]},${p.yTitle[1]}) rotate(-90)`)
        .attr("text-anchor", "middle")
        .attr("dominant-baseline", "central")
        .attr("font-family", SANS)
        .attr("font-size", p.titleSize)
        .attr("fill", "#111")
        .text("Abs")
    const xt = svg.append("text")
        .attr("x", p.xTitle[0])
        .attr("y", p.xTitle[1])
        .attr("text-anchor", "middle")
        .attr("dominant-baseline", "central")
        .attr("font-family", SANS)
        .attr("font-size", p.titleSize)
        .attr("fill", "#111")
        .text("cm-1")
    if (p.condensed) {
        xt.attr("textLength", p.xTitleLen).attr("lengthAdjust", "spacingAndGlyphs")
    }
}

// Panel A
drawPanel({
    id: "a",
    left: 261, right: 1127, top: 105, bottom: 639,
    xDomain: [10992, 3775],
    yDomain: [0.68, 6.03],
    series: [
        { color: "#00ffff", values: aCyan },
        { color: "#00ff00", values: aGreen },
        { color: "#ff0000", values: aRed },
        { color: "#0000ff", values: aBlue },
        { color: "#800080", values: aPurple }
    ],
    lineWidth: 1.4,
    xTicks: aXTicks,
    xMinor: d3.range(4000, 11000, 500),
    yTicks: aYTicks,
    yMinor: d3.range(0.75, 6.01, 0.125),
    yFormat: ".1f",
    xTickLen: 4, yTickLen: 5,
    xPad: 8, yPad: 4,
    fontSize: 19,
    axisWidth: 3,
    titleSize: 20,
    yTitle: [187, 377],
    xTitle: [690, 683]
})

// Panel B
drawPanel({
    id: "b",
    left: 750, right: 1252, top: 724, bottom: 1252,
    xDomain: [4661.9, 4453.6],
    yDomain: [2.0643, 2.1454],
    series: [
        { color: "#0000ff", values: bBlue },
        { color: "#ff0000", values: bRed },
        { color: "#00ff00", values: bGreen },
        { color: "#00ffff", values: bCyan }
    ],
    lineWidth: 1.4,
    xTicks: bXTicks,
    xMinor: d3.range(4460, 4661, 10),
    yTicks: bYTicks,
    yMinor: d3.range(2.066, 2.1451, 0.002),
    yFormat: ".2f",
    xTickLen: 3, yTickLen: 3,
    xPad: 7, yPad: 3,
    fontSize: 22,
    axisWidth: 3,
    titleSize: 19,
    condensed: true,
    xLabelLen: 25, yLabelLen: 22, xTitleLen: 27,
    yTitle: [706, 990],
    xTitle: [1001, 1296]
})

// Panel C
drawPanel({
    id: "c",
    left: 92, right: 935, top: 1070, bottom: 1593,
    xDomain: [7337, 6212],
    yDomain: [1.94, 2.719],
    series: [
        { color: "#0000ff", values: cBlue },
        { color: "#00ff00", values: cGreen },
        { color: "#ff0000", values: cRed },
        { color: "#00ffff", values: cCyan }
    ],
    lineWidth: 1.3,
    xTicks: cXTicks,
    xMinor: d3.range(6250, 7337, 50),
    yTicks: cYTicks,
    yMinor: d3.range(1.95, 2.72, 0.05),
    yFormat: ".1f",
    xTickLen: 4, yTickLen: 4,
    xPad: 9, yPad: 5,
    fontSize: 18,
    axisWidth: 3,
    titleSize: 19,
    yTitle: [20, 1335],
    xTitle: [511, 1635]
})

// ---------- panel letters and band labels ----------
const letters = [["A)", 147, 205], ["B)", 654, 808], ["C)", 131, 1029]]
letters.forEach(([t, lx, ly]) => {
    svg.append("text")
        .attr("x", lx).attr("y", ly)
        .attr("text-anchor", "middle")
        .attr("font-family", LABEL_FONT)
        .attr("font-size", 40)
        .attr("fill", "#111")
        .text(t)
})

function bandLabel(cx, baseline) {
    const t = svg.append("text")
        .attr("x", cx).attr("y", baseline)
        .attr("text-anchor", "middle")
        .attr("font-family", SANS)
        .attr("font-size", 46)
        .attr("fill", BLUE_TEXT)
        .attr("textLength", 122)
        .attr("lengthAdjust", "spacingAndGlyphs")
    t.append("tspan").text("2")
    t.append("tspan").attr("font-family", SERIF).attr("font-style", "italic").text("\u03BD")
    t.append("tspan").text("OH")
}
bandLabel(736, 344)
bandLabel(399, 1029)

// (v + d)H2O label with its pale box
svg.append("rect")
    .attr("x", 828).attr("y", 8)
    .attr("width", 236).attr("height", 68)
    .attr("fill", "#f6f8fb")

const water = svg.append("text")
    .attr("x", 845).attr("y", 58)
    .attr("font-family", SANS)
    .attr("font-size", 38)
    .attr("fill", BLUE_TEXT)
    .attr("textLength", 214)
    .attr("lengthAdjust", "spacingAndGlyphs")
water.append("tspan").attr("font-family", SERIF).attr("font-size", 44).text("(")
water.append("tspan").attr("font-family", SERIF).attr("font-style", "italic").text("\u03BD")
water.append("tspan").attr("font-family", SERIF).text(" + ")
water.append("tspan").attr("font-family", SERIF).attr("font-style", "italic").text("\u03B4")
water.append("tspan").attr("font-family", SERIF).attr("font-size", 44).text(")")
water.append("tspan").text("H")
water.append("tspan").attr("font-size", 26).attr("dy", 9).text("2")
water.append("tspan").attr("dy", -9).text("O")
</script>
</body>
</html>
